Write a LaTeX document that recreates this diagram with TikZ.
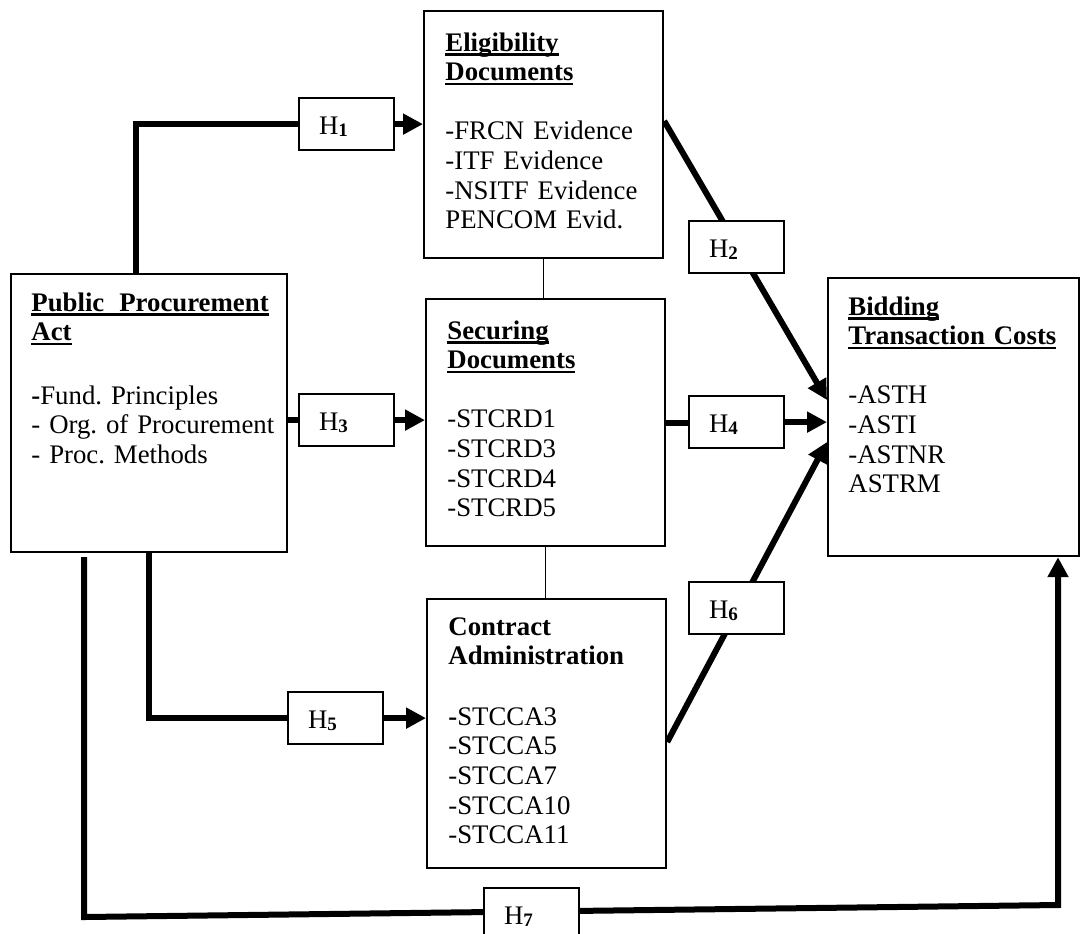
\documentclass[tikz,border=0pt]{standalone}
\usepackage{fontspec}
\setmainfont{Liberation Serif}
\usetikzlibrary{arrows.meta, backgrounds, calc, positioning}

\newcommand{\hdr}[1]{\leavevmode\setbox0\hbox{\bfseries #1}\rlap{\vrule width\wd0 height -1.2pt depth 2.4pt}\box0}
\newcommand{\hyp}[1]{H\raisebox{-1.2pt}{\fontsize{9.5}{10}\selectfont\bfseries #1}}

\begin{document}
\frenchspacing
\begin{tikzpicture}[x=0.5pt, y=-0.5pt,
  box/.style={draw, line width=1.1pt, fill=white, inner sep=0pt, anchor=north west},
  txt/.style={anchor=north west, inner sep=0pt, align=left, font=\fontsize{13.4}{14.8}\selectfont\frenchspacing},
  hbox/.style={draw, line width=1.1pt, fill=white, minimum width=47.5pt, minimum height=26pt,
    text width=27.5pt, text height=11pt, text depth=1pt, inner xsep=10pt, inner ysep=0pt,
    align=left, anchor=north west, font=\fontsize{13.4}{14.8}\selectfont},
  conn/.style={line width=3pt},
  arr/.style={line width=3pt, -{Triangle[length=10pt,width=10pt]}},
  link/.style={line width=0.8pt}]
\useasboundingbox (0,0) rectangle (1085,933);

% main boxes
\node[box, minimum width=138pt, minimum height=139pt] (ppa) at (10,273) {};
\node[box, minimum width=119.5pt, minimum height=123.5pt] (elig) at (423,10) {};
\node[box, minimum width=119.5pt, minimum height=123.5pt] (secur) at (425,298) {};
\node[box, minimum width=119.5pt, minimum height=134.5pt] (contr) at (426,598) {};
\node[box, minimum width=125.5pt, minimum height=139pt] (btc) at (827,277) {};

\node[txt, text width=125pt] (ppa-t) at ($(ppa.north west)+(21,19)$)
  {\hdr{Public\hspace{3pt} Procurement}\\ \hdr{Act}\\[17pt]
   \textbf{-}Fund. Principles\\ - Org. of Procurement\\ - Proc. Methods};
\node[txt, text width=105pt] (elig-t) at ($(elig.north west)+(22,22)$)
  {\hdr{Eligibility}\\ \hdr{Documents}\\[14.8pt]
   -FRCN Evidence\\ -ITF Evidence\\ -NSITF Evidence\\ PENCOM Evid.};
\node[txt, text width=105pt] (secur-t) at ($(secur.north west)+(22,22)$)
  {\hdr{Securing}\\ \hdr{Documents}\\[14.8pt]
   -STCRD1\\ -STCRD3\\ -STCRD4\\ -STCRD5};
\node[txt, text width=105pt] (contr-t) at ($(contr.north west)+(22,19)$)
  {\textbf{Contract}\\ \textbf{Administration}\\[15.5pt]
   \textbf{-}STCCA3\\ -STCCA5\\ -STCCA7\\ -STCCA10\\ -STCCA11};
\node[txt, text width=110pt] (btc-t) at ($(btc.north west)+(21,19)$)
  {\hdr{Bidding}\\ \hdr{Transaction Costs}\\[14.8pt]
   -ASTH\\ -ASTI\\ -ASTNR\\ ASTRM};

% hypothesis boxes
\node[hbox] (h1) at (298,97) {\hyp{1}};
\node[hbox] (h2) at (688,220) {\hyp{2}};
\node[hbox] (h3) at (298,393) {\hyp{3}};
\node[hbox] (h4) at (688,395) {\hyp{4}};
\node[hbox] (h5) at (287,691) {\hyp{5}};
\node[hbox] (h6) at (688,581) {\hyp{6}};
\node[hbox] (h7) at (483,887) {\hyp{7}};

\coordinate (c7a) at (84,917);
\coordinate (c7b) at (1058,905);

\begin{scope}[on background layer]
\draw[conn] ([xshift=63pt]ppa.north west) |- (h1.west);
\draw[arr] (h1.east) -- (h1.east -| elig.west);
\draw[conn] (h3.west -| ppa.east) -- (h3.west);
\draw[arr] (h3.east) -- (h3.east -| secur.west);
\draw[conn] (secur.east) -- (secur.east -| h4.west);
\draw[arr] (h4.east) -- (h4.east -| btc.west);
\draw[conn] (ppa.south) |- (h5.west);
\draw[arr] (h5.east) -- (h5.east -| contr.west);
\draw[arr] ([yshift=-55.5pt]elig.north east) -- ([yshift=-61.5pt]btc.north west);
\draw[arr] ([yshift=-72pt]contr.north east) -- ([yshift=-82.5pt]btc.north west);
\draw[arr] ([xshift=37pt,yshift=-2pt]ppa.south west) -- (c7a) -- (c7b) -- (c7b |- btc.south);
\draw[link] (elig.south) -- (elig.south |- secur.north);
\draw[link] (secur.south) -- (secur.south |- contr.north);
\end{scope}
\end{tikzpicture}
\end{document}
